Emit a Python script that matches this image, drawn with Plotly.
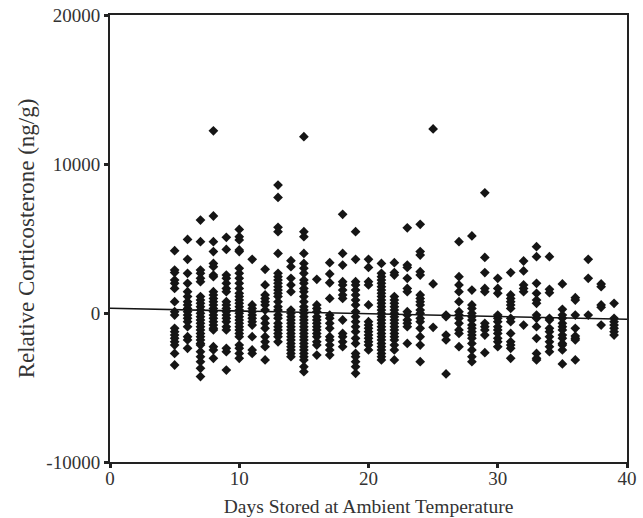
import plotly.graph_objects as go

# Relative corticosterone (ng/g) per storage day
day_values = {
    5: [4180, 2880, 2710, 2210, 1990, 1650, 760, 90, -140, -1030, -1250, -1480, -1700, -1930, -2150, -2710, -3490],
    6: [4940, 3600, 2660, 1990, 1430, 1100, 760, 540, 310, 90, -140, -360, -580, -920, -1590, -1810, -2370],
    7: [6240, 4790, 2880, 2660, 2330, 2100, 1100, 870, 650, 420, 200, -20, -250, -470, -690, -920, -1140,
        -1370, -1590, -1810, -2040, -2150, -2600, -2930, -3270, -3710, -4270],
    8: [12230, 6510, 4790, 4120, 3330, 3110, 2550, 2440, 1430, 1210, 980, 760, 540, 310, 90, -140, -360,
        -580, -810, -1030, -1140, -2260, -2480, -3040],
    9: [5080, 4270, 2550, 2330, 1990, 1650, 1430, 760, 540, 310, 90, -140, -360, -580, -920, -1140, -2370,
        -2600, -3830],
    10: [5610, 5120, 4900, 4230, 4120, 3000, 2660, 2330, 1990, 1650, 1320, 1100, 870, 650, 420, 200, -20,
         -250, -470, -690, -920, -1140, -1370, -1590, -2150, -2370, -2710, -3040],
    11: [3600, 540, 310, 90, -140, -360, -580, -810, -1590, -2480, -2710],
    12: [2930, 1880, 1210, 980, 760, 540, 200, -360, -690, -1030, -1590, -1930, -2260, -3150],
    13: [8590, 7760, 5750, 5460, 4000, 2660, 2440, 2210, 1990, 1770, 1540, 1320, 1100, 760, 420, 200, -140,
         -360, -690, -920, -1140, -1370, -1590, -1930],
    14: [3510, 3110, 2330, 1880, 1430, 200, -20, -250, -470, -690, -920, -1140, -1370, -1590, -1810, -2040,
         -2260, -2480, -2710, -2930],
    15: [11830, 5460, 5120, 4000, 3330, 3000, 2660, 2210, 1990, 1650, 1430, 1100, 760, 420, 200, -20, -250,
         -470, -690, -920, -1140, -1370, -1590, -1810, -2040, -2260, -2480, -2710, -2930, -3150, -3600, -3940],
    16: [2260, 540, 310, 90, -250, -470, -690, -920, -1140, -1370, -1590, -1930, -2150, -2820],
    17: [3380, 2620, 2030, 980, -140, -360, -690, -1030, -1590, -1810, -2150, -2480, -2820],
    18: [6620, 4000, 3220, 2100, 1880, 1540, 1210, 980, -470, -1370, -1590, -1930, -2260],
    19: [5460, 3600, 2100, 1880, 1540, 1210, 870, 540, 90, -250, -580, -920, -1250, -1700, -2040, -2710,
         -2930, -3270, -3600, -4050],
    20: [3600, 3060, 2100, 1880, 540, -580, -810, -1030, -1250, -1480, -1700, -1930, -2150, -2480],
    21: [3330, 2660, 2440, 2210, 1990, 1770, 1540, 1320, 1100, 870, 650, 420, 200, -20, -250, -470, -690,
         -920, -1140, -1370, -1590, -1810, -2040, -2260, -2480, -2710, -2930, -3150],
    22: [3380, 2710, 2550, 1100, 870, 650, 420, 200, -20, -250, -470, -690, -920, -1140, -1370, -1590,
         -1810, -2150, -2480, -3150],
    23: [5720, 3220, 3060, 2330, 1650, 1430, 90, -140, -470, -690, -920, -2040],
    24: [5950, 4120, 3890, 2770, 2550, 1210, 980, 760, 540, 200, -20, -360, -580, -1030, -1590, -2150, -3270],
    25: [12350, 1950, -960],
    26: [-140, -250, -1480, -1810, -4090],
    27: [4790, 2440, 1880, 1430, 760, 90, -140, -360, -690, -1140, -1370, -2260],
    28: [5170, 1540, 540, 310, -20, -250, -470, -810, -1030, -1250, -1480, -1700, -2040, -2480, -2930, -3270],
    29: [8070, 3730, 2710, 1650, 1430, -690, -920, -1140, -1480, -2660],
    30: [2330, 1650, 1320, -140, -360, -580, -920, -1140, -1370, -1700, -1930, -2260],
    31: [2710, 1210, 980, 760, 540, 310, -360, -580, -1370, -1930, -2150, -2370, -3040],
    32: [3490, 2820, 1880, 1650, 1430, -810],
    33: [4450, 3780, 1990, 1320, 870, 650, -140, -360, -920, -1700, -2710, -3040, -3150],
    34: [3780, 1590, 1360, -360, -470, -1030, -1250, -1590, -1930, -2260, -2600],
    35: [1950, 250, -140, -360, -690, -920, -1140, -1480, -1700, -2040, -2150, -2480, -3420],
    36: [1030, 870, -140, -1030, -1550, -1700, -1810, -3150],
    37: [3600, 2330, -140],
    38: [1950, 1770, 540, 380, -810],
    39: [650, -360, -580, -810, -1030, -1250, -1480],
}

# Linear trend line end points
trend_days = [0, 40]
trend_values = [320, -420]

x_ticks = [0, 10, 20, 30, 40]
y_ticks = [-10000, 0, 10000, 20000]

xs, ys = [], []
for d, vals in day_values.items():
    xs.extend([d] * len(vals))
    ys.extend(vals)

fig = go.Figure()
fig.add_trace(go.Scatter(
    x=xs, y=ys, mode="markers",
    marker=dict(symbol="diamond", size=7.5, color="#151515", line=dict(width=0)),
    showlegend=False, hoverinfo="skip",
))
fig.add_trace(go.Scatter(
    x=trend_days, y=trend_values, mode="lines",
    line=dict(color="#151515", width=1.6),
    showlegend=False, hoverinfo="skip",
))

font = dict(family="Liberation Serif, Times New Roman, serif", size=19, color="#333333")

fig.update_layout(
    width=643, height=518,
    margin=dict(l=110, r=16, t=15, b=56),
    paper_bgcolor="white", plot_bgcolor="white",
    font=font,
)
fig.update_xaxes(
    range=[0, 40], tickvals=x_ticks, ticktext=[str(v) for v in x_ticks],
    showgrid=False, zeroline=False, automargin=False,
    showline=True, mirror=True, linecolor="#222222", linewidth=2,
    ticks="outside", ticklen=4, tickwidth=3, tickcolor="#222222",
    tickfont=dict(size=19), ticklabelstandoff=-6, ticklabeloverflow="allow",
    title=dict(text="Days Stored at Ambient Temperature", font=dict(size=19.5), standoff=12),
)
fig.update_yaxes(
    range=[-10000, 20000], tickvals=y_ticks, ticktext=[str(v) for v in y_ticks],
    showgrid=False, zeroline=False, automargin=False,
    showline=True, mirror=True, linecolor="#222222", linewidth=2,
    ticks="outside", ticklen=4, tickwidth=3, tickcolor="#222222",
    tickfont=dict(size=19), ticklabeloverflow="allow",
    title=dict(text="Relative Corticosterone (ng/g)", font=dict(size=23), standoff=5),
)

fig.write_html("out.html", config={"displayModeBar": False},
               post_script="document.body.style.margin='0';")
